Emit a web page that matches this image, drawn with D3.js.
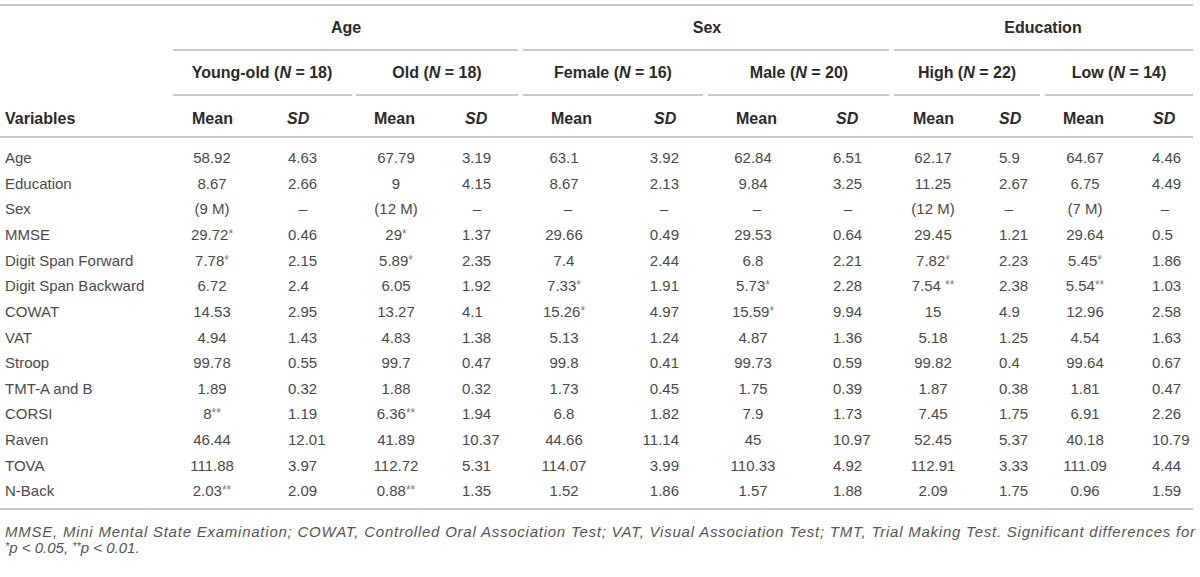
<!DOCTYPE html>
<html>
<head>
<meta charset="utf-8">
<script src="https://cdn.jsdelivr.net/npm/d3@7"></script>
<style>
  body { margin: 0; background: #fff; }
  svg text { font-family: "Liberation Sans", Arial, sans-serif; }
</style>
</head>
<body>
<script>
// table content
var variables = ["Age", "Education", "Sex", "MMSE", "Digit Span Forward", "Digit Span Backward",
    "COWAT", "VAT", "Stroop", "TMT-A and B", "CORSI", "Raven", "TOVA", "N-Back"];

var groups = ["Age", "Sex", "Education"];
var subgroups = ["Young-old", "Old", "Female", "Male", "High", "Low"];
var subgroupN = [18, 18, 16, 20, 22, 14];

var youngOldMean = ["58.92", "8.67", "(9 M)", "29.72*", "7.78*", "6.72", "14.53", "4.94", "99.78", "1.89", "8**", "46.44", "111.88", "2.03**"];
var youngOldSD = ["4.63", "2.66", "–", "0.46", "2.15", "2.4", "2.95", "1.43", "0.55", "0.32", "1.19", "12.01", "3.97", "2.09"];
var oldMean = ["67.79", "9", "(12 M)", "29*", "5.89*", "6.05", "13.27", "4.83", "99.7", "1.88", "6.36**", "41.89", "112.72", "0.88**"];
var oldSD = ["3.19", "4.15", "–", "1.37", "2.35", "1.92", "4.1", "1.38", "0.47", "0.32", "1.94", "10.37", "5.31", "1.35"];
var femaleMean = ["63.1", "8.67", "–", "29.66", "7.4", "7.33*", "15.26*", "5.13", "99.8", "1.73", "6.8", "44.66", "114.07", "1.52"];
var femaleSD = ["3.92", "2.13", "–", "0.49", "2.44", "1.91", "4.97", "1.24", "0.41", "0.45", "1.82", "11.14", "3.99", "1.86"];
var maleMean = ["62.84", "9.84", "–", "29.53", "6.8", "5.73*", "15.59*", "4.87", "99.73", "1.75", "7.9", "45", "110.33", "1.57"];
var maleSD = ["6.51", "3.25", "–", "0.64", "2.21", "2.28", "9.94", "1.36", "0.59", "0.39", "1.73", "10.97", "4.92", "1.88"];
var highMean = ["62.17", "11.25", "(12 M)", "29.45", "7.82*", "7.54 **", "15", "5.18", "99.82", "1.87", "7.45", "52.45", "112.91", "2.09"];
var highSD = ["5.9", "2.67", "–", "1.21", "2.23", "2.38", "4.9", "1.25", "0.4", "0.38", "1.75", "5.37", "3.33", "1.75"];
var lowMean = ["64.67", "6.75", "(7 M)", "29.64", "5.45*", "5.54**", "12.96", "4.54", "99.64", "1.81", "6.91", "40.18", "111.09", "0.96"];
var lowSD = ["4.46", "4.49", "–", "0.5", "1.86", "1.03", "2.58", "1.63", "0.67", "0.47", "2.26", "10.79", "4.44", "1.59"];

var footLine1 = "MMSE, Mini Mental State Examination; COWAT, Controlled Oral Association Test; VAT, Visual Association Test; TMT, Trial Making Test. Significant differences for";

// layout (positions only)
var width = 1200, height = 577;
var tableRight = 1193;
var groupSpans = [[173, 518], [523, 889], [894, tableRight]];
var subSpans = [[173, 352], [356, 518], [523, 703], [708, 889], [894, 1040], [1045, tableRight]];
var subCenters = [262, 437, 613, 799, 967, 1119];
var groupCenters = [346, 707, 1043];

// each data column: values, header x (start), anchor + x for values, x for dashes
var columns = [
    {vals: youngOldMean, head: "Mean", hx: 192, anchor: "middle", x: 212, dash: 212},
    {vals: youngOldSD, head: "SD", hx: 287, anchor: "start", x: 288, dash: 303},
    {vals: oldMean, head: "Mean", hx: 374, anchor: "middle", x: 396, dash: 396},
    {vals: oldSD, head: "SD", hx: 465, anchor: "start", x: 462, dash: 477},
    {vals: femaleMean, head: "Mean", hx: 551, anchor: "middle", x: 564, dash: 568},
    {vals: femaleSD, head: "SD", hx: 654, anchor: "end", x: 679, dash: 664},
    {vals: maleMean, head: "Mean", hx: 736, anchor: "middle", x: 753, dash: 757},
    {vals: maleSD, head: "SD", hx: 836, anchor: "start", x: 833, dash: 848},
    {vals: highMean, head: "Mean", hx: 913, anchor: "middle", x: 933, dash: 933},
    {vals: highSD, head: "SD", hx: 999, anchor: "start", x: 999, dash: 1009},
    {vals: lowMean, head: "Mean", hx: 1063, anchor: "middle", x: 1085, dash: 1085},
    {vals: lowSD, head: "SD", hx: 1153, anchor: "start", x: 1152, dash: 1165}
];

var y = d3.scalePoint()
    .domain(variables)
    .range([158, 491]);

var ruleColor = "#c9c9c9", textColor = "#4a4a4a", headColor = "#2a2a2a";
var headSize = 16, bodySize = 15;

var svg = d3.select("body").append("svg")
    .attr("width", width)
    .attr("height", height);

function rule(x1, x2, yy) {
    svg.append("line")
        .attr("x1", x1).attr("x2", x2)
        .attr("y1", yy).attr("y2", yy)
        .attr("stroke", ruleColor)
        .attr("stroke-width", 2);
}

rule(0, tableRight, 5);
groupSpans.forEach(function (s) { rule(s[0], s[1], 50); });
subSpans.forEach(function (s) { rule(s[0], s[1], 95); });
rule(0, tableRight, 137);
rule(0, tableRight, 509);

// group headers
svg.selectAll(".group")
    .data(groups)
    .enter().append("text")
    .attr("class", "group")
    .attr("x", function (d, i) { return groupCenters[i]; })
    .attr("y", 27)
    .attr("dy", "0.35em")
    .attr("text-anchor", "middle")
    .attr("font-size", headSize)
    .attr("font-weight", "bold")
    .attr("fill", headColor)
    .text(function (d) { return d; });

// subgroup headers with italic N
var sub = svg.selectAll(".sub")
    .data(subgroups)
    .enter().append("text")
    .attr("class", "sub")
    .attr("x", function (d, i) { return subCenters[i]; })
    .attr("y", 72)
    .attr("dy", "0.35em")
    .attr("text-anchor", "middle")
    .attr("font-size", headSize)
    .attr("font-weight", "bold")
    .attr("fill", headColor);
sub.append("tspan").text(function (d) { return d + " ("; });
sub.append("tspan").attr("font-style", "italic").text("N");
sub.append("tspan").text(function (d, i) { return " = " + subgroupN[i] + ")"; });

// column headers
svg.append("text")
    .attr("x", 5).attr("y", 118).attr("dy", "0.35em")
    .attr("font-size", headSize).attr("font-weight", "bold").attr("fill", headColor)
    .text("Variables");

svg.selectAll(".colhead")
    .data(columns)
    .enter().append("text")
    .attr("class", "colhead")
    .attr("x", function (d) { return d.hx; })
    .attr("y", 118)
    .attr("dy", "0.35em")
    .attr("font-size", headSize)
    .attr("font-weight", "bold")
    .attr("font-style", function (d) { return d.head === "SD" ? "italic" : null; })
    .attr("fill", headColor)
    .text(function (d) { return d.head; });

// row labels
svg.selectAll(".rowlabel")
    .data(variables)
    .enter().append("text")
    .attr("class", "rowlabel")
    .attr("x", 5)
    .attr("y", function (d) { return y(d); })
    .attr("dy", "0.35em")
    .attr("font-size", bodySize)
    .attr("fill", textColor)
    .text(function (d) { return d; });

// cells
columns.forEach(function (col) {
    var cells = svg.append("g").selectAll("text")
        .data(col.vals)
        .enter().append("text")
        .attr("x", function (d) { return d === "–" ? col.dash : col.x; })
        .attr("y", function (d, i) { return y(variables[i]); })
        .attr("dy", "0.35em")
        .attr("text-anchor", function (d) { return d === "–" ? "middle" : col.anchor; })
        .attr("font-size", bodySize)
        .attr("fill", textColor);
    cells.append("tspan").text(function (d) { return d.replace(/\*+$/, ""); });
    cells.append("tspan")
        .attr("font-size", 12)
        .attr("fill", "#777")
        .attr("dy", -2)
        .text(function (d) { var m = d.match(/\*+$/); return m ? m[0] : ""; });
});

// footnote
svg.append("text")
    .attr("x", 5).attr("y", 532).attr("dy", "0.35em")
    .attr("font-size", 15).attr("font-style", "italic").attr("fill", "#555")
    .attr("textLength", 1190).attr("lengthAdjust", "spacing")
    .text(footLine1);

var foot2 = svg.append("text")
    .attr("x", 5).attr("y", 553).attr("dy", "0.35em")
    .attr("font-size", 15).attr("font-style", "italic").attr("fill", "#555");
[["*", true], ["p < 0.05, ", false], ["**", true], ["p < 0.01.", false]].forEach(function (p) {
    foot2.append("tspan")
        .attr("font-size", p[1] ? 11 : null)
        .attr("dy", p[1] ? -3 : 3)
        .text(p[0]);
});
foot2.select("tspan").attr("dy", -3);
</script>
</body>
</html>
